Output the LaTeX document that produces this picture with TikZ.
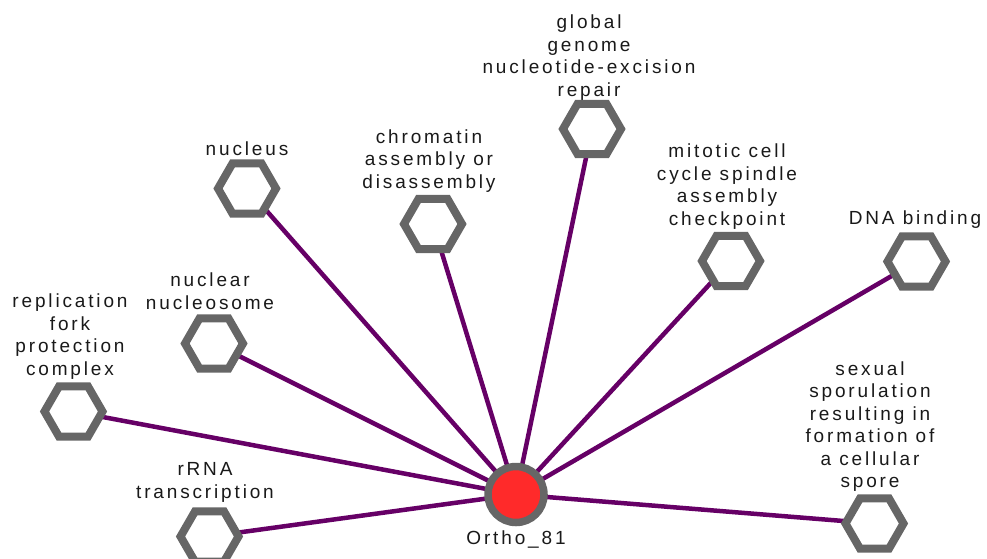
\documentclass[tikz,border=0pt]{standalone}
\usepackage{fontspec}
\setmainfont{Liberation Sans}[LetterSpace=15]
\usetikzlibrary{shapes.geometric,backgrounds}
\definecolor{nodegray}{HTML}{666666}
\definecolor{nodered}{HTML}{FF2A2A}
\definecolor{edgepurple}{HTML}{660066}
\begin{document}
\begin{tikzpicture}[x=1pt,y=-1pt,
  hexnode/.style={regular polygon, regular polygon sides=6, minimum size=58pt, inner sep=0pt, outer sep=0pt, draw=nodegray, line width=8pt, fill=white},
  centernode/.style={circle, minimum size=56pt, inner sep=0pt, outer sep=0pt, draw=nodegray, line width=7.5pt, fill=nodered},
  lbl/.style={align=center, inner sep=0pt, text=black!90, font=\fontsize{19}{22.5}\selectfont},
  edge/.style={draw=edgepurple, line width=4.5pt}]
\useasboundingbox (0,0) rectangle (987,558);
\node[centernode] (o) at (516,494.5) {};
\node[hexnode] (gg) at (592,129) {};
\node[hexnode] (ch) at (433,224) {};
\node[hexnode] (nu) at (247,188.5) {};
\node[hexnode] (mi) at (731,261) {};
\node[hexnode] (dna) at (916.5,261.5) {};
\node[hexnode] (nn) at (214,343.5) {};
\node[hexnode] (rf) at (73.5,411.5) {};
\node[hexnode] (ss) at (874.5,523.5) {};
\node[hexnode] (rr) at (209.5,536.5) {};
\begin{scope}[on background layer]
\foreach \t in {gg,ch,nu,mi,dna,nn,rf,ss,rr}
  \draw[edge] (o.center) -- (\t.center);
\end{scope}
\node[lbl] (lo) at (516,539.5) {Ortho\_81};
\node[lbl] (lgg) at (589,57.5) {global\\genome\\nucleotide-excision\\repair};
\node[lbl] (lch) at (429,161) {chromatin\\assembly or\\disassembly};
\node[lbl] (lnu) at (247,148.5) {nucleus};
\node[lbl] (lmi) at (727,186.5) {mitotic cell\\cycle spindle\\assembly\\checkpoint};
\node[lbl] (ldna) at (915,219.5) {DNA binding};
\node[lbl] (lnn) at (210,291) {nuclear\\nucleosome};
\node[lbl] (lrf) at (70,336.5) {replication\\fork\\protection\\complex};
\node[lbl] (lss) at (870,426.5) {sexual\\sporulation\\resulting in\\formation of\\a cellular\\spore};
\node[lbl] (lrr) at (205,482.5) {rRNA\\transcription};
\end{tikzpicture}
\end{document}
